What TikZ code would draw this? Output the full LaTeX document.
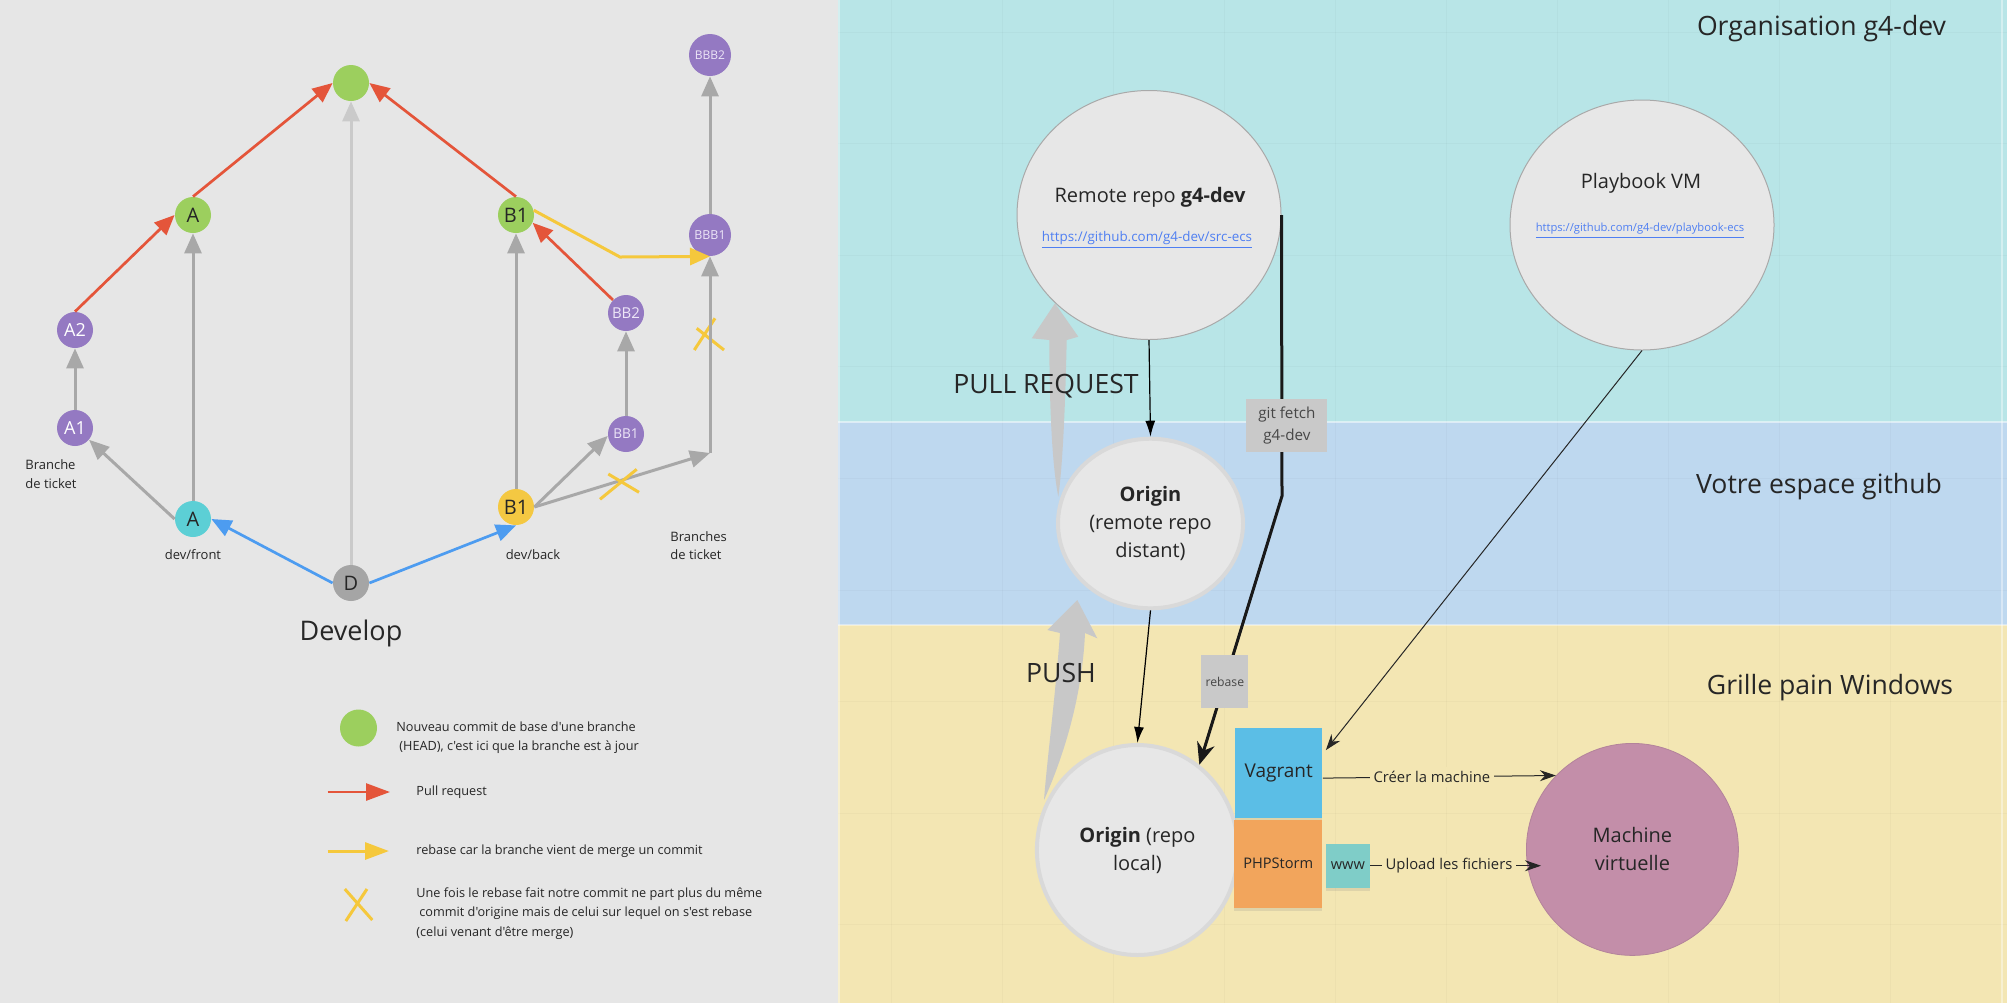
\documentclass[tikz,border=0pt]{standalone}
\usepackage{fontspec}
\setmainfont{Open Sans}[Ligatures=TeXOff]
\usetikzlibrary{arrows.meta,shapes.geometric,shadows}
\definecolor{cleft}{HTML}{E6E6E6}
\definecolor{ccyanbg}{HTML}{B8E5E7}
\definecolor{cbluebg}{HTML}{BED8EF}
\definecolor{cyelbg}{HTML}{F3E6B3}
\definecolor{cred}{HTML}{E4553A}
\definecolor{cgrayl}{HTML}{A8A8A8}
\definecolor{clgray}{HTML}{CACACA}
\definecolor{cbluel}{HTML}{4D9CF0}
\definecolor{cyell}{HTML}{F5C83C}
\definecolor{cgreen}{HTML}{9CCF5E}
\definecolor{cpurple}{HTML}{9479C2}
\definecolor{ccyann}{HTML}{5CCFD5}
\definecolor{cyeln}{HTML}{F4C842}
\definecolor{cgrayn}{HTML}{A5A5A5}
\definecolor{clav}{HTML}{EDE6F7}
\definecolor{ctext}{HTML}{262626}
\definecolor{ccirc}{HTML}{E7E7E7}
\definecolor{cbord}{HTML}{A9A9A9}
\definecolor{cbord2}{HTML}{D9D9D9}
\definecolor{cbox}{HTML}{C9C9C9}
\definecolor{cvag}{HTML}{5BBEE6}
\definecolor{cphp}{HTML}{F2A55C}
\definecolor{cwww}{HTML}{7FCDC8}
\definecolor{cmach}{HTML}{C38EA9}
\definecolor{curl}{HTML}{4F7FF2}
\definecolor{cbig}{HTML}{C8C8C8}
\begin{document}
\begin{tikzpicture}[x=0.5pt,y=-0.5pt,
  cmt/.style={circle, minimum size=18pt, inner sep=0pt, text=ctext, font=\fontsize{10}{12}\selectfont},
  cmtb/.style={cmt, minimum size=21pt},
  redarr/.style={draw=cred, line width=1.35pt, -{Triangle[length=10pt,width=8.5pt]}},
  grayarr/.style={draw=cgrayl, line width=1.5pt, -{Triangle[length=10pt,width=8.5pt]}},
  lgrayarr/.style={draw=clgray, line width=1.5pt, -{Triangle[length=10pt,width=8.5pt]}},
  bluearr/.style={draw=cbluel, line width=1.35pt, -{Triangle[length=10pt,width=8.5pt]}},
  yelarr/.style={draw=cyell, line width=1.5pt, -{Triangle[length=10pt,width=8.5pt]}},
  xmark/.style={draw=cyell, line width=1.5pt},
  lbl/.style={inner sep=0pt, text=ctext, font=\fontsize{6.5}{9.15}\selectfont},
  legtxt/.style={inner sep=0pt, text=ctext, align=left, font=\fontsize{6.35}{9.6}\selectfont},
  ttl/.style={inner sep=0pt, text=ctext, font=\fontsize{13.3}{16}\selectfont},
  bigc/.style={ellipse, fill=ccirc, draw=cbord, line width=0.5pt, inner sep=0pt},
  origc/.style={ellipse, fill=ccirc, draw=cbord2, line width=2pt, inner sep=0pt, align=center, text=ctext, font=\fontsize{10}{14}\selectfont},
  txt/.style={inner sep=0pt, text=ctext, font=\fontsize{10}{12}\selectfont},
  urlst/.style={inner sep=0pt, text=curl},
  sticky/.style={rectangle, inner sep=0pt, text=ctext, drop shadow={opacity=0.18, shadow xshift=0pt, shadow yshift=-1.5pt}},
  tinarr/.style={draw=black, line width=0.6pt, -{Latex[length=8pt,width=5pt]}},
  thkarr/.style={draw=black!90, line width=1.5pt, -{Stealth[length=11pt,width=9pt]}},
  smarr/.style={draw=black!85, line width=0.5pt, -{Stealth[length=8pt,width=5.5pt]}},
  graybox/.style={rectangle, fill=cbox, inner sep=0pt, align=center, text=ctext!85},
  lblbg/.style={fill=cyelbg, inner sep=2pt, text=ctext, font=\fontsize{7.4}{9}\selectfont},
  bigtxt/.style={inner sep=0pt, text=ctext, font=\fontsize{13.3}{16}\selectfont}
]
\useasboundingbox (0,0) rectangle (2007,1003);
% backgrounds
\fill[cleft] (0,0) rectangle (838,1003);
\fill[ccyanbg] (838,0) rectangle (2007,422);
\fill[cbluebg] (838,422) rectangle (2007,625);
\fill[cyelbg] (838,625) rectangle (2007,1003);
\foreach \gx in {891,1002,1113,1224,1335,1446,1557,1668,1779,1890}
  \draw[black, opacity=0.025, line width=0.5pt] (\gx,0) -- (\gx,1003);
\foreach \gy in {32,143.6,255.2,366.8,478.4,590,701.6,813.2,924.8}
  \draw[black, opacity=0.025, line width=0.5pt] (838,\gy) -- (2007,\gy);
\draw[white, opacity=0.5, line width=1pt] (838,422) -- (2007,422);
\draw[white, opacity=0.4, line width=1pt] (838,625) -- (2007,625);
\draw[white, opacity=0.4, line width=0.8pt] (839,0) -- (839,1003);
\draw[white, opacity=0.4, line width=0.8pt] (2002,0) -- (2002,1003);

% ===== left: commit graph =====
\node[cmt, fill=cgreen] (top) at (351,83) {};
\node[cmt, fill=cgreen] (Ag) at (193,215) {A};
\node[cmt, fill=cgreen] (B1g) at (516,215) {B1};
\node[cmtb, fill=cpurple, text=clav, font=\fontsize{6}{7}\selectfont] (BBB2) at (710,55) {BBB2};
\node[cmtb, fill=cpurple, text=clav, font=\fontsize{6.2}{7}\selectfont] (BBB1) at (710,235) {BBB1};
\node[cmt, fill=cpurple, text=white, font=\fontsize{9}{10}\selectfont] (A2) at (75,330) {A2};
\node[cmt, fill=cpurple, text=clav, font=\fontsize{7.5}{9}\selectfont] (BB2) at (626,313) {BB2};
\node[cmt, fill=cpurple, text=white, font=\fontsize{9}{10}\selectfont] (A1) at (75,428) {A1};
\node[cmt, fill=cpurple, text=clav, font=\fontsize{6.8}{8}\selectfont] (BB1) at (626,434) {BB1};
\node[cmt, fill=ccyann] (Ac) at (193,519) {A};
\node[cmt, fill=cyeln] (B1y) at (516,507) {B1};
\node[cmt, fill=cgrayn] (D) at (351,583) {D};
\coordinate (corner) at (710,453);
\coordinate (ybend) at (620,257);

% upper cross (under the gray line)
\draw[xmark] (694.3,350) -- (715,318.3);
\draw[xmark] (696.7,328.3) -- (724,350);

\draw[lgrayarr] (D.north) -- (top.south);
\draw[redarr] (A2.north) -- (Ag.west);
\draw[redarr] (Ag.north) -- (top.west);
\draw[redarr] (B1g.north) -- (top.east);
\draw[redarr] (BB2.135) -- (B1g.-25);
\draw[grayarr] (Ac.north) -- (Ag.south);
\draw[grayarr] (A1.north) -- (A2.south);
\draw[grayarr] (Ac.west) -- (A1.-40);
\draw[bluearr] (D.west) -- (Ac.east);
\draw[bluearr] (D.east) -- (B1y.south);
\draw[grayarr] (B1y.north) -- (B1g.south);
\draw[grayarr] (B1y.east) -- (BB1.186);
\draw[grayarr] (B1y.east) -- (corner);
\draw[grayarr] (corner) -- (BBB1.south);
\draw[grayarr] (BB1.north) -- (BB2.south);
\draw[grayarr] (BBB1.north) -- (BBB2.south);
\draw[yelarr] (B1g.15) -- (ybend) -- (BBB1.south);

% lower cross
\draw[xmark] (600,499.3) -- (636.7,469.3);
\draw[xmark] (608.3,474) -- (639,492.3);

\node[lbl, anchor=west, align=left] (brA) at (25,474) {Branche\\de ticket};
\node[lbl] (devfront) at (193,555) {dev/front};
\node[lbl] (devback) at (533,555) {dev/back};
\node[lbl, anchor=west, align=left] (brB) at (670,545.5) {Branches\\de ticket};
\node[inner sep=0pt, text=ctext, font=\fontsize{13.5}{16}\selectfont] (develop) at (351,633) {Develop};

% legend
\node[circle, fill=cgreen, minimum size=18.5pt, inner sep=0pt] (leg1) at (358.5,728) {};
\node[legtxt, anchor=west] (leg1t) at (396,737.5) {Nouveau commit de base d'une branche\\\hspace*{1.5pt}(HEAD), c'est ici que la branche est à jour};
\draw[draw=cred, line width=1.35pt, -{Triangle[length=12pt,width=8.5pt]}] (327.5,792) -- (390,792);
\node[legtxt, anchor=west] (leg2t) at (416,792) {Pull request};
\draw[draw=cyell, line width=1.5pt, -{Triangle[length=12pt,width=8.5pt]}] (327.5,851) -- (389,851);
\node[legtxt, anchor=west] (leg3t) at (416,851) {rebase car la branche vient de merge un commit};
\draw[xmark] (344.8,889) -- (372.3,920);
\draw[xmark] (367,889) -- (345.8,921);
\node[legtxt, anchor=west, font=\fontsize{6.35}{9.8}\selectfont] (leg4t) at (416,913.5) {Une fois le rebase fait notre commit ne part plus du même\\\hspace*{1.5pt}commit d'origine mais de celui sur lequel on s'est rebase\\(celui venant d'être merge)};

% ===== right side =====
\node[ttl] (t1) at (1821.5,29) {Organisation g4-dev};
\node[ttl] (t2) at (1819,487) {Votre espace github};
\node[ttl] (t3) at (1830,688) {Grille pain Windows};

\node[bigc, minimum width=132pt, minimum height=124.5pt] (remote) at (1149,215) {};
\node[txt] (remotet) at (1150,197) {Remote repo \textbf{g4-dev}};
\node[urlst, font=\fontsize{6.7}{8}\selectfont] (remoteu) at (1147,240) {\underline{https://github.com/g4-dev/src-ecs}};

\node[bigc, minimum width=132pt, minimum height=125pt] (plb) at (1642,225) {};
\node[txt] (plbt) at (1641,183) {Playbook VM};
\node[urlst, font=\fontsize{5.6}{7}\selectfont] (plbu) at (1640,231) {\underline{https://github.com/g4-dev/playbook-ecs}};

\node[origc, minimum width=92.5pt, minimum height=84.8pt] (orem) at (1150.5,523.5) {\textbf{Origin}\\(remote repo\\distant)};
\node[origc, minimum width=100.5pt, minimum height=105pt] (oloc) at (1137.4,850) {\textbf{Origin} (repo\\local)};
\node[circle, fill=cmach, draw=cmach!92!black, line width=0.4pt, minimum size=106pt, inner sep=0pt, align=center, text=ctext, font=\fontsize{10}{14}\selectfont] (mach) at (1632.4,849.4) {Machine\\virtuelle};

% big tapered arrows
\fill[cbig] (1055,303.3) -- (1078.3,336.7) -- (1066.7,340) .. controls (1065,420) and (1062,470) .. (1058.3,496.7) .. controls (1053,470) and (1049.5,420) .. (1049.3,340) -- (1031.7,338.3) -- cycle;
\fill[cbig] (1077.3,600) -- (1097.3,638.3) -- (1085,633) .. controls (1082,700) and (1062,760) .. (1044,800) .. controls (1047,760) and (1055,700) .. (1060,633) -- (1047.3,630) -- cycle;
\node[bigtxt] (pr) at (1046,386) {PULL REQUEST};
\node[bigtxt] (push) at (1061,673) {PUSH};

% connectors
\draw[tinarr] (remote.south) -- (orem.north);
\draw[tinarr] (orem.south) -- (oloc.north);
\coordinate (fk) at (1282,496);
\draw[thkarr] (remote.east) -- node[pos=.749, xshift=2.5pt, graybox, minimum width=40.5pt, minimum height=26.5pt, font=\fontsize{7.6}{11.3}\selectfont] (gitf) {git fetch\\g4-dev} (fk) -- node[pos=.691, graybox, minimum width=23.5pt, minimum height=26.5pt, font=\fontsize{6.1}{7}\selectfont] (reb) {rebase} (oloc.54);

% stickies
\node[sticky, fill=cvag, minimum width=43.75pt, minimum height=44.65pt, font=\fontsize{9.5}{11}\selectfont] (vag) at (1278.7,773.1) {\raisebox{2pt}{Vagrant}};
\node[sticky, fill=cphp, minimum width=44.25pt, minimum height=44pt, font=\fontsize{7.3}{9}\selectfont] (php) at (1278.2,863.6) {PHPStorm};
\node[sticky, fill=cwww, minimum width=21.8pt, minimum height=21.95pt, font=\fontsize{7.3}{9}\selectfont] (www) at (1347.8,865.7) {www};

\draw[smarr] (plb.south) -- ([shift={(1.5pt,11.5pt)}]vag.east);
\draw[smarr] ([yshift=-2.5pt]vag.east) -- node[pos=.468, lblbg] (creer) {Créer la machine} (mach.136);
\coordinate (mw) at ([xshift=7.5pt]mach.west);
\coordinate (uptip) at (mw |- www.east);
\draw[smarr] (www.east) -- node[pos=.462, lblbg] (upl) {Upload les fichiers} (uptip);
\end{tikzpicture}
\end{document}
